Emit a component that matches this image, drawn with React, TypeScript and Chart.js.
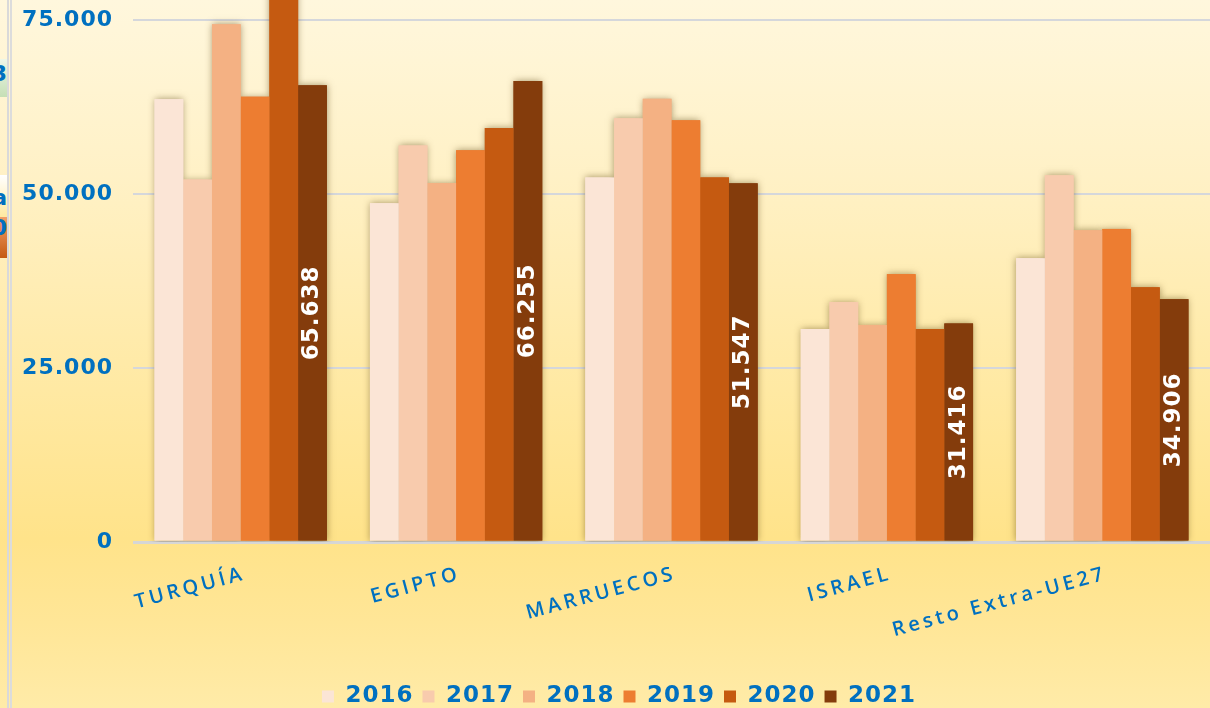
import React, { useEffect, useRef } from 'react';
import { Chart, registerables } from 'chart.js';

Chart.register(...registerables);

const categories = ['TURQUÍA', 'EGIPTO', 'MARRUECOS', 'ISRAEL', 'Resto Extra-UE27'];
const years = ['2016', '2017', '2018', '2019', '2020', '2021'];
const v2016 = [63650, 48700, 52400, 30600, 40800];
const v2017 = [52100, 57000, 60900, 34500, 52700];
const v2018 = [74400, 51600, 63700, 31200, 44800];
const v2019 = [64000, 56300, 60600, 38500, 45000];
const v2020 = [79500, 59500, 52400, 30600, 36600];
const v2021 = [65638, 66255, 51547, 31416, 34906];
const yTicks = [0, 25000, 50000, 75000];
const yMax = 77900;

const series = [v2016, v2017, v2018, v2019, v2020, v2021];
const colors = ['#FBE5D6', '#F8CBAD', '#F4B183', '#ED7D31', '#C55A11', '#843C0C'];
const BLUE = '#0070C0';
const FONT = '"DejaVu Sans", "Open Sans", sans-serif';
const XFONT = '"Open Sans", "DejaVu Sans", sans-serif';

const fmt = (v: number) => String(Math.round(v)).replace(/\B(?=(\d{3})+(?!\d))/g, '.');

const CHART_BOTTOM = 542;
const PAD_BOTTOM = -10;
const LEGEND_SHIFT = 2;

const shadowPlugin = {
  id: 'barShadow',
  afterLayout(chart: any) {
    const lg = chart.legend;
    if (lg) {
      lg.left += LEGEND_SHIFT;
      lg.right += LEGEND_SHIFT;
    }
  },
  beforeDatasetsDraw(chart: any) {
    const ctx = chart.ctx;
    const a = chart.chartArea;
    ctx.save();
    ctx.beginPath();
    ctx.rect(a.left - 20, a.top, a.right - a.left + 40, a.bottom - a.top);
    ctx.clip();
    ctx.shadowColor = 'rgba(90,70,20,0.55)';
    ctx.shadowBlur = 7;
    chart.data.datasets.forEach((d: any, i: number) => {
      const meta = chart.getDatasetMeta(i);
      meta.data.forEach((el: any) => {
        const p = el.getProps(['x', 'y', 'base', 'width'], true);
        ctx.fillStyle = d.backgroundColor;
        ctx.fillRect(p.x - p.width / 2, Math.min(p.y, p.base), p.width, Math.abs(p.base - p.y));
      });
    });
    ctx.restore();
  },
};

const labelPlugin = {
  id: 'lastLabels',
  beforeDraw(chart: any) {
    chart.ctx.letterSpacing = '1px';
  },
  afterDatasetsDraw(chart: any) {
    const ctx = chart.ctx;
    const idx = chart.data.datasets.length - 1;
    const meta = chart.getDatasetMeta(idx);
    const data = chart.data.datasets[idx].data;
    ctx.letterSpacing = '1px';
    meta.data.forEach((el: any, j: number) => {
      const p = el.getProps(['x', 'y', 'base'], true);
      ctx.save();
      ctx.translate(p.x, (p.y + p.base) / 2);
      ctx.rotate(-Math.PI / 2);
      ctx.fillStyle = '#FFFFFF';
      ctx.font = `bold 23px ${FONT}`;
      ctx.textAlign = 'center';
      ctx.textBaseline = 'middle';
      ctx.fillText(fmt(data[j]), 0, 0);
      ctx.restore();
    });
    ctx.letterSpacing = '3.5px';
  },
  afterDraw(chart: any) {
    chart.ctx.letterSpacing = '0px';
  },
};

export default function App() {
  const ref = useRef<HTMLCanvasElement | null>(null);

  useEffect(() => {
    if (!ref.current) return;
    const chart = new Chart(ref.current, {
      type: 'bar',
      data: {
        labels: categories,
        datasets: years.map((y, i) => ({
          label: y,
          data: series[i],
          backgroundColor: colors[i],
          borderWidth: 0,
          categoryPercentage: 0.8,
          barPercentage: 1.0,
        })),
      },
      options: {
        animation: false,
        responsive: false,
        maintainAspectRatio: false,
        layout: { padding: { left: 0, top: 0, right: 0, bottom: PAD_BOTTOM } },
        scales: {
          x: {
            grid: { display: false, drawTicks: false },
            border: { display: false },
            ticks: {
              color: BLUE,
              font: { family: XFONT, size: 20, weight: '600' },
              minRotation: 15,
              maxRotation: 15,
              autoSkip: false,
              padding: 20,
              labelOffset: 4,
              z: 1,
            },
            afterFit: (s: any) => {
              const lh = s.chart.legend ? s.chart.legend.height : 0;
              s.height = s.chart.height - CHART_BOTTOM - lh - PAD_BOTTOM;
              s.paddingLeft = 0;
              s.paddingRight = 0;
            },
          },
          y: {
            min: 0,
            max: yMax,
            grid: {
              color: (c: any) => (c.tick && c.tick.value === 0 ? '#D6D6D6' : '#D5D7DB'),
              lineWidth: (c: any) => (c.tick && c.tick.value === 0 ? 3 : 2),
              drawTicks: false,
            },
            border: { display: false },
            ticks: {
              stepSize: 25000,
              padding: 20,
              color: BLUE,
              font: { family: FONT, size: 22, weight: 'bold' },
              callback: (v: any) => fmt(Number(v)),
            },
            afterBuildTicks: (s: any) => {
              s.ticks = yTicks.map((v) => ({ value: v }));
            },
            afterFit: (s: any) => {
              s.width = 133;
              s.paddingTop = 0;
              s.paddingBottom = 0;
            },
          },
        },
        plugins: {
          legend: {
            position: 'bottom',
            labels: {
              boxWidth: 12,
              boxHeight: 12,
              padding: 9,
              color: BLUE,
              font: { family: FONT, size: 23, weight: 'bold' },
            },
          },
          tooltip: { enabled: false },
        },
      } as any,
      plugins: [shadowPlugin, labelPlugin],
    });
    return () => chart.destroy();
  }, []);

  return (
    <div
      style={{
        position: 'absolute',
        left: 0,
        top: 0,
        width: 1210,
        height: 708,
        overflow: 'hidden',
        background:
          'linear-gradient(180deg, #FFF7DD 0%, #FFF1C6 25%, #FFE9A3 55%, #FFE38A 76%, #FFE697 88%, #FFEBA8 100%)',
      }}
    >
      <div style={{ position: 'absolute', left: 0, top: 59, width: 7, height: 38, overflow: 'hidden', background: 'linear-gradient(180deg, #EEF6E8, #C6DFB6)', color: BLUE, font: `bold 22px ${FONT}`, lineHeight: '30px', textAlign: 'right', direction: 'rtl' }}>3</div>
      <div style={{ position: 'absolute', left: 0, top: 175, width: 7, height: 42, overflow: 'hidden', background: 'linear-gradient(180deg, #FFFFFF, #FFE9A0)', color: BLUE, font: `bold 22px ${FONT}`, lineHeight: '46px', textAlign: 'right', direction: 'rtl' }}>a</div>
      <div style={{ position: 'absolute', left: 0, top: 217, width: 7, height: 41, overflow: 'hidden', background: 'linear-gradient(180deg, #F2A06A, #C55A11)', color: BLUE, font: `bold 22px ${FONT}`, lineHeight: '22px', textAlign: 'right', direction: 'rtl' }}>0</div>
      <div style={{ position: 'absolute', left: 7, top: 0, width: 2, height: 708, background: '#D9D9D9' }} />
      <div style={{ position: 'absolute', left: 10, top: 0, width: 2, height: 708, background: '#DCDCDC' }} />
      <canvas ref={ref} width={1210} height={708} style={{ position: 'absolute', left: 0, top: 0, display: 'block' }} />
    </div>
  );
}
